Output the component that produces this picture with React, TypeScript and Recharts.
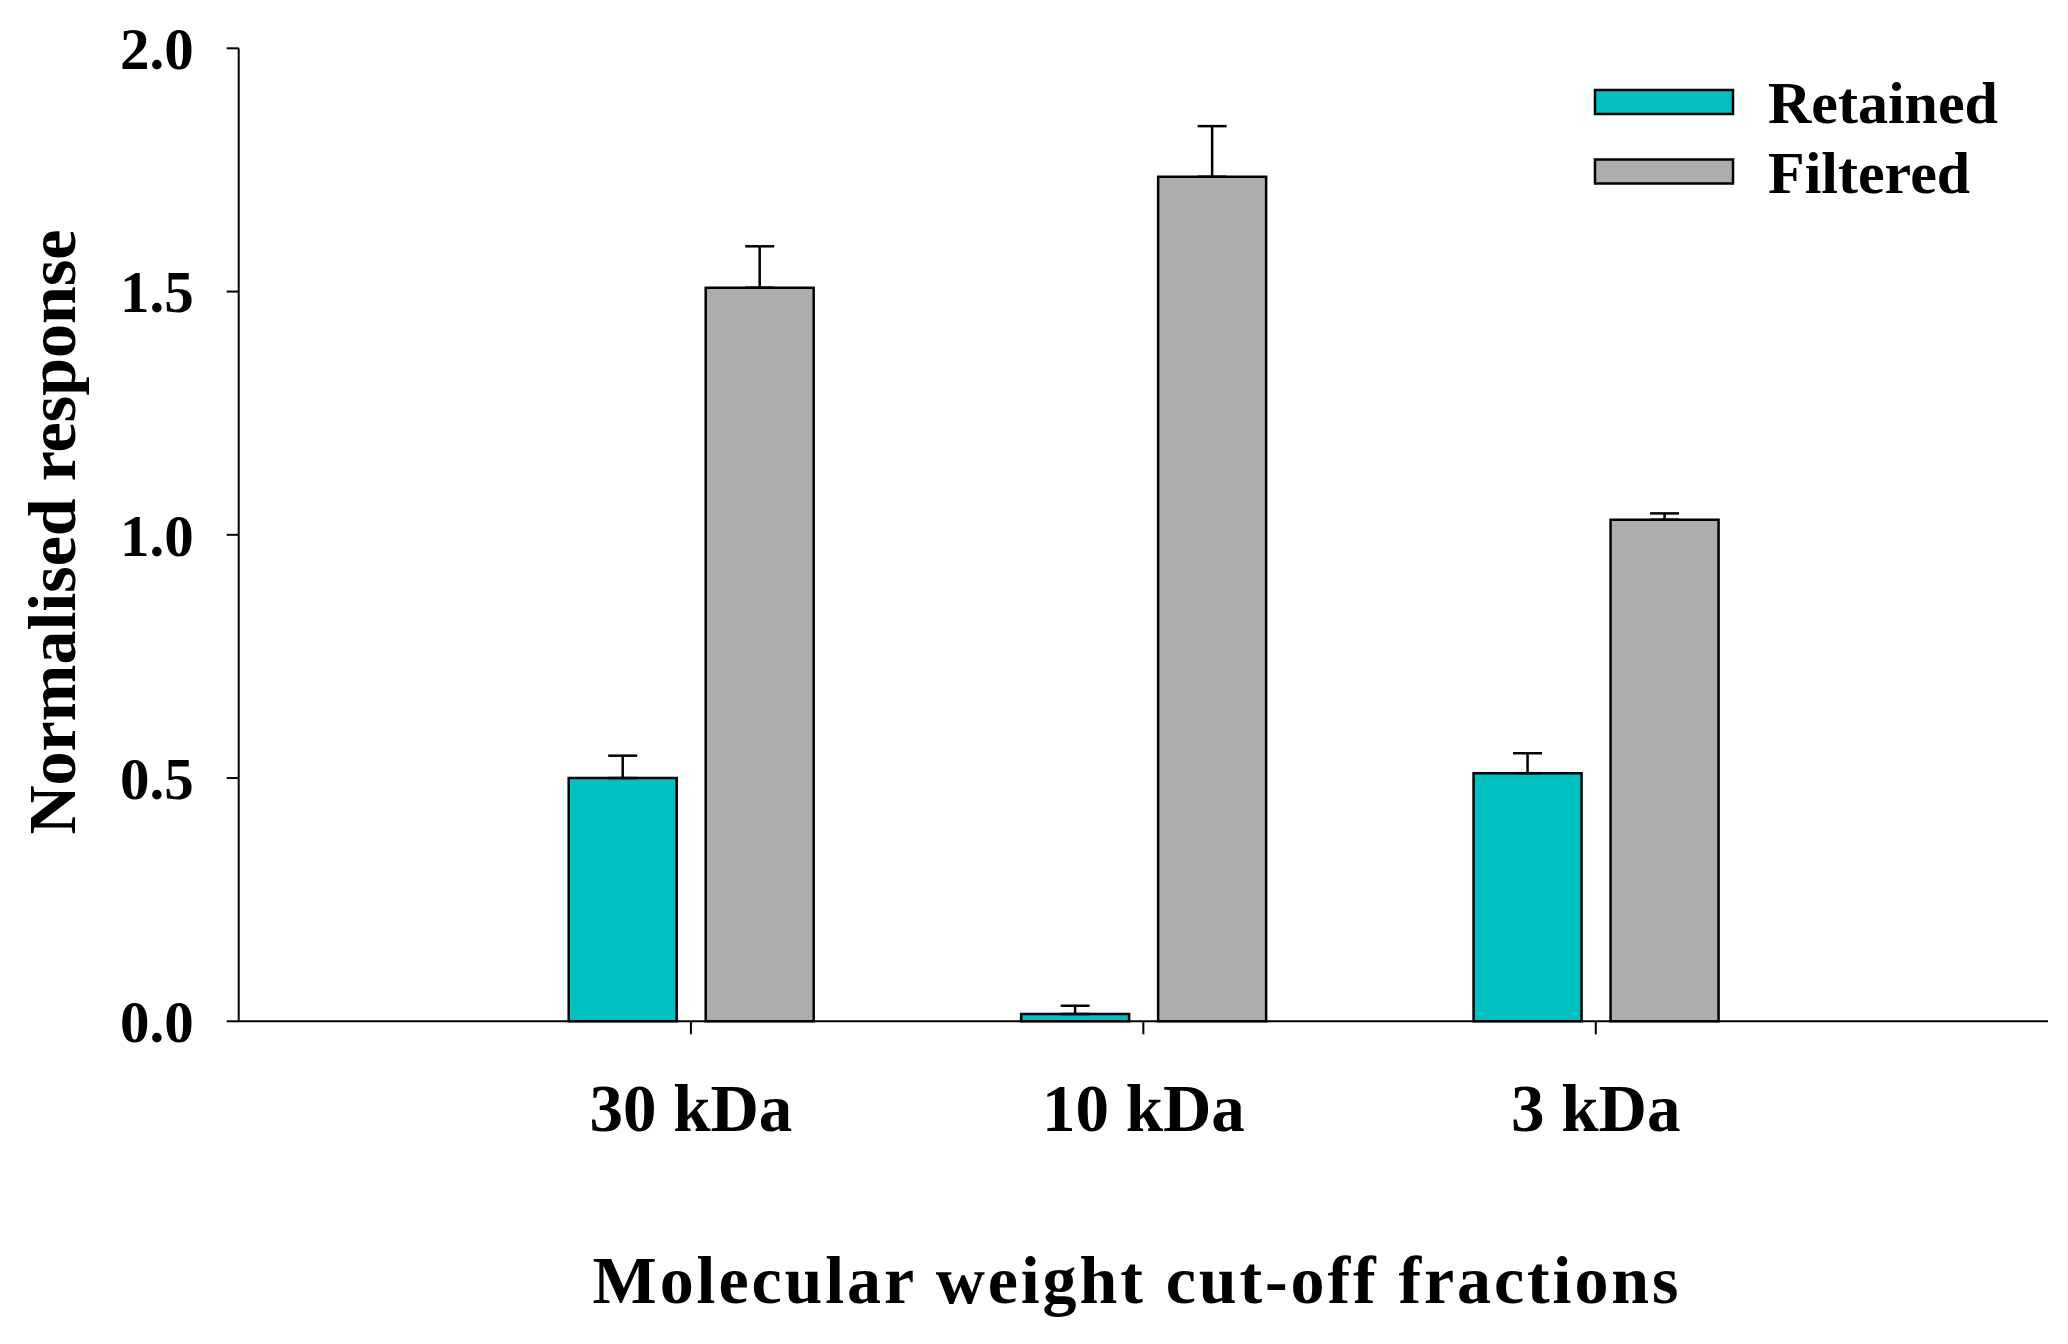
import React from 'react';
import { BarChart, Bar, XAxis, YAxis, ErrorBar, Legend, Label } from 'recharts';

const categories = ['30 kDa', '10 kDa', '3 kDa'];
const seriesNames = ['Retained', 'Filtered'];
const retained = [0.5, 0.015, 0.51];
const retainedErr = [0.046, 0.017, 0.041];
const filtered = [1.508, 1.736, 1.031];
const filteredErr = [0.085, 0.104, 0.013];
const yTicks = [0, 0.5, 1.0, 1.5, 2.0];

const data = categories.map((c, i) => ({
  category: c,
  retained: retained[i],
  retainedErr: [0, retainedErr[i]],
  filtered: filtered[i],
  filteredErr: [0, filteredErr[i]],
}));

const FONT = '"Liberation Serif", "Times New Roman", serif';

const XTick = (props: any) => {
  const { x, y, payload } = props;
  return (
    <text x={x} y={y + 96.4} textAnchor="middle" fontFamily={FONT} fontSize={67} fontWeight="bold" fill="#000">
      {payload.value}
    </text>
  );
};

const LegendContent = (props: any) => {
  const payload = [...(props.payload || [])].sort(
    (a: any, b: any) => seriesNames.indexOf(a.value) - seriesNames.indexOf(b.value)
  );
  return (
    <svg width={470} height={200} style={{ display: 'block', overflow: 'visible' }}>
      {payload.map((e: any, i: number) => (
        <g key={e.value}>
          <rect x={7} y={12 + i * 69.5} width={138} height={24} fill={e.color} stroke="#000" strokeWidth={2.5} />
          <text x={180} y={45.3 + i * 69.5} fontFamily={FONT} fontSize={60} fontWeight="bold" fill="#000">
            {e.value}
          </text>
        </g>
      ))}
    </svg>
  );
};

export default function App() {
  return (
    <div style={{ width: 2052, height: 1328, background: '#fff' }}>
      <BarChart
        width={2052}
        height={1328}
        data={data}
        margin={{ top: 40.3, right: 12, bottom: 114.7, left: 80.7 }}
        barGap={29}
      >
        <XAxis
          dataKey="category"
          type="category"
          height={200}
          padding={{ left: 226, right: 226 }}
          axisLine={{ stroke: '#000', strokeWidth: 2 }}
          tickLine={{ stroke: '#000', strokeWidth: 2 }}
          tickSize={13}
          tickMargin={0}
          tick={<XTick />}
          interval={0}
        >
          <Label
            content={() => (
              <text
                x={1129}
                y={1294.7}
                textAnchor="middle"
                fontFamily={FONT}
                fontSize={68}
                fontWeight="bold"
                letterSpacing={2.9}
                fill="#000"
              >
                Molecular weight cut-off fractions
              </text>
            )}
          />
        </XAxis>
        <YAxis
          type="number"
          domain={[0, 2]}
          ticks={yTicks}
          interval={0}
          width={150}
          axisLine={{ stroke: '#000', strokeWidth: 2 }}
          tickLine={{ stroke: '#000', strokeWidth: 2 }}
          tickSize={12}
          tickMargin={33}
          tickFormatter={(v: number) => v.toFixed(1)}
          tick={{ fontFamily: FONT, fontSize: 59, fontWeight: 'bold', fill: '#000' }}
        >
          <Label
            content={() => (
              <text
                x={67}
                y={524}
                transform="rotate(-90, 67, 524)"
                textAnchor="middle"
                fontFamily={FONT}
                fontSize={68}
                fontWeight="bold"
                fill="#000"
              >
                Normalised response
              </text>
            )}
          />
        </YAxis>
        <Legend
          layout="vertical"
          align="center"
          verticalAlign="middle"
          wrapperStyle={{ left: 1580, top: 70, width: 470, height: 200 }}
          content={<LegendContent />}
        />
        <Bar
          dataKey="retained"
          name={seriesNames[0]}
          fill="#00C0C0"
          stroke="#000"
          strokeWidth={2.5}
          barSize={108}
          isAnimationActive={false}
        >
          <ErrorBar dataKey="retainedErr" direction="y" width={14.5} stroke="#000" strokeWidth={2.5} />
        </Bar>
        <Bar
          dataKey="filtered"
          name={seriesNames[1]}
          fill="#ADADAD"
          stroke="#000"
          strokeWidth={2.5}
          barSize={108}
          isAnimationActive={false}
        >
          <ErrorBar dataKey="filteredErr" direction="y" width={14.5} stroke="#000" strokeWidth={2.5} />
        </Bar>
      </BarChart>
    </div>
  );
}
